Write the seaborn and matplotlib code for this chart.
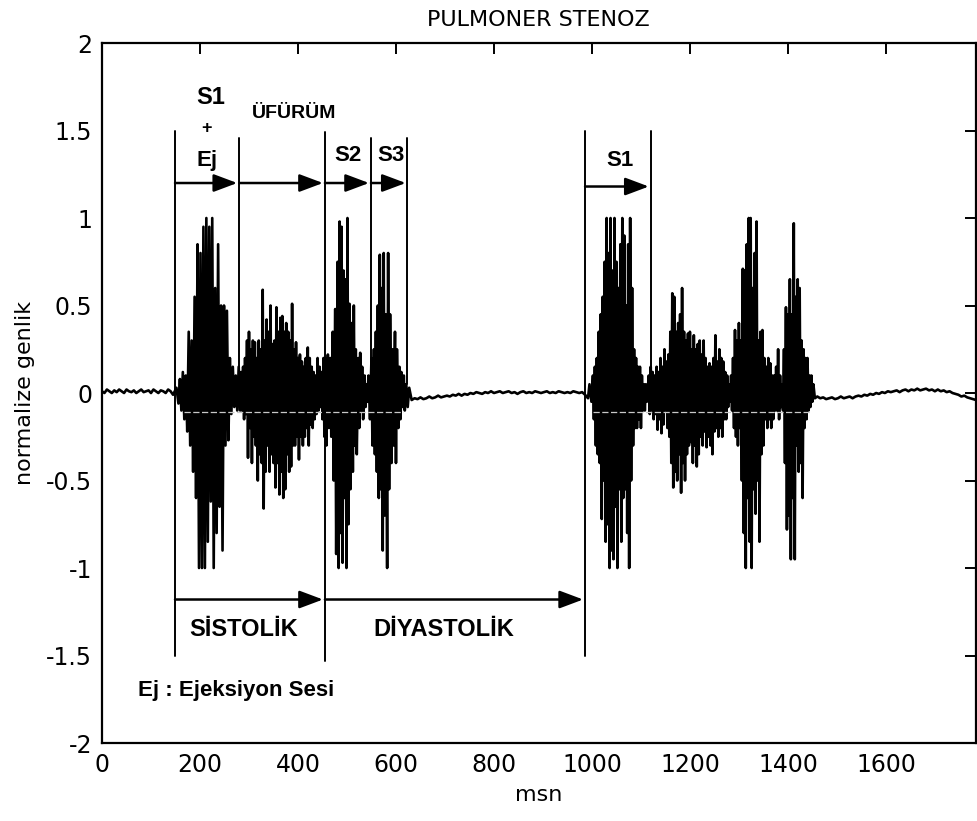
import numpy as np
import pandas as pd
import seaborn as sns
import matplotlib
matplotlib.use("Agg")
import matplotlib.pyplot as plt

# ---------------- data ----------------
base1_t = [0, 5, 10, 15, 20, 25, 30, 35, 40, 45, 50, 55, 60, 65, 70, 75, 80, 85, 90, 95,
           100, 105, 110, 115, 120, 125, 130, 135, 140, 145]
base1_a = [0.010, 0.000, 0.020, 0.010, 0.000, 0.015, 0.005, 0.020, 0.010, 0.000,
           0.020, 0.010, 0.005, 0.015, 0.000, 0.010, 0.020, 0.005, 0.010, 0.015,
           0.000, 0.020, 0.010, 0.000, 0.015, 0.010, 0.000, 0.020, 0.010, -0.010]

s1ej_t = [152, 156, 159, 162, 165, 168, 171, 174, 177, 180, 183, 186, 189, 192, 195, 198,
          201, 204, 207, 210, 213, 216, 219, 222, 225, 228, 231, 234, 237, 240, 243, 246,
          249, 252, 255, 258, 261, 264, 267, 270, 273, 276, 279, 282]
s1ej_a = [0.03, -0.06, 0.08, -0.10, 0.12, -0.15, 0.10, -0.22, 0.35, -0.30, 0.30, -0.45,
          0.55, -0.60, 0.85, -1.00, 0.80, -1.00, 0.95, -1.00, 1.00, -0.85, 0.95, -0.62,
          1.00, -1.00, 0.60, -0.80, 0.85, -0.65, 0.50, -0.90, 0.50, -0.30, 0.47, -0.27,
          0.20, -0.12, 0.15, -0.08, 0.10, -0.10, 0.15, -0.10]

mur1_t = [284, 286, 288, 290, 292, 294, 296, 298, 300, 302, 304, 306, 308, 310, 312, 314,
          316, 318, 320, 322, 324, 326, 328, 330, 332, 334, 336, 338, 340, 342, 344, 346,
          348, 350, 352, 354, 356, 358, 360, 362, 364, 366, 368, 370, 372, 374, 376, 378,
          380, 382, 384, 386, 388, 390, 392, 394, 396, 398, 400, 402, 404, 406, 408, 410,
          412, 414, 416, 418, 420, 422, 424, 426, 428, 430, 432, 434, 436, 438, 440, 442,
          444, 446, 448, 450, 452, 454]
mur1_a = [0.12, -0.10, 0.15, -0.15, 0.20, -0.12, 0.30, -0.37, 0.35, -0.20, 0.25, -0.40,
          0.30, -0.25, 0.29, -0.30, 0.20, -0.50, 0.30, -0.35, 0.25, -0.40, 0.59, -0.66,
          0.30, -0.45, 0.42, -0.30, 0.35, -0.45, 0.50, -0.35, 0.28, -0.40, 0.30, -0.54,
          0.49, -0.40, 0.35, -0.58, 0.43, -0.45, 0.44, -0.60, 0.35, -0.55, 0.40, -0.35,
          0.35, -0.45, 0.30, -0.42, 0.51, -0.30, 0.25, -0.30, 0.29, -0.25, 0.20, -0.38,
          0.22, -0.25, 0.18, -0.30, 0.15, -0.25, 0.20, -0.20, 0.26, -0.30, 0.20, -0.18,
          0.15, -0.20, 0.12, -0.15, 0.10, -0.12, 0.20, -0.10, 0.15, -0.08, 0.12, -0.15,
          0.20, -0.25]

s2_t = [456, 458, 461, 463, 466, 468, 471, 473, 476, 478, 481, 483, 485, 487, 489, 491,
        493, 495, 497, 499, 501, 503, 505, 507, 510, 512, 514, 516, 518, 520, 523, 525,
        527, 529, 531, 533, 536, 538, 540, 542, 544]
s2_a = [0.20, -0.30, 0.22, -0.20, 0.20, -0.25, 0.35, -0.50, 0.48, -0.92, 0.75, -1.00,
        0.98, -0.80, 0.95, -0.97, 0.70, -0.60, 0.65, -1.00, 1.00, -0.75, 0.51, -0.55,
        0.40, -0.45, 0.50, -0.30, 0.25, -0.35, 0.20, -0.20, 0.23, -0.10, 0.15, -0.15,
        0.10, -0.08, 0.05, -0.05, 0.10]

s3_t = [547, 550, 552, 555, 557, 559, 561, 563, 565, 567, 569, 571, 573, 575, 577, 579,
        582, 584, 586, 588, 591, 593, 595, 598, 600, 602, 605, 607, 609, 611, 614, 616,
        618, 621, 624, 627]
s3_a = [-0.15, 0.20, -0.30, 0.25, -0.35, 0.35, -0.45, 0.50, -0.60, 0.79, -0.55, 0.60,
        -0.90, 0.80, -0.70, 0.45, -1.00, 0.80, -0.55, 0.45, -0.40, 0.25, -0.30, 0.35,
        -0.40, 0.25, -0.20, 0.15, -0.15, 0.12, -0.08, 0.10, -0.10, 0.05, -0.08, 0.03]

base2_t = [632, 638, 644, 650, 656, 662, 668, 674, 680, 686, 692, 698, 704, 710, 716, 722,
           728, 734, 740, 746, 752, 758, 764, 770, 776, 782, 788, 794, 800, 806, 812, 818,
           824, 830, 836, 842, 848, 854, 860, 866, 872, 878, 884, 890, 896, 902, 908, 914,
           920, 926, 932, 938, 944, 950, 956, 962, 968, 974, 980, 986]
base2_a = [-0.040, -0.030, -0.035, -0.025, -0.035, -0.030, -0.020, -0.030, -0.025, -0.015,
           -0.025, -0.020, -0.015, -0.020, -0.010, -0.015, -0.005, -0.015, -0.005, -0.010,
           0.000, -0.005, 0.005, 0.000, -0.005, 0.005, 0.000, 0.010, 0.000, 0.005,
           0.010, 0.000, 0.005, 0.010, 0.000, 0.005, -0.005, 0.005, 0.010, 0.000,
           0.005, 0.000, 0.010, 0.005, 0.000, 0.005, 0.010, 0.000, 0.005, 0.000,
           0.010, 0.005, 0.000, 0.005, 0.000, 0.010, 0.005, 0.000, 0.005, -0.010]

s1b_t = [992, 995, 999, 1002, 1004, 1006, 1008, 1010, 1012, 1014, 1016, 1018, 1020, 1022,
         1024, 1026, 1028, 1030, 1032, 1034, 1036, 1038, 1040, 1042, 1044, 1046, 1048,
         1050, 1052, 1054, 1056, 1058, 1060, 1062, 1064, 1066, 1068, 1070, 1072, 1074,
         1076, 1078, 1080, 1082, 1084, 1086, 1088, 1090, 1092, 1094, 1096, 1098, 1100,
         1102, 1104, 1106, 1108, 1110, 1112, 1114]
s1b_a = [-0.03, 0.05, -0.05, 0.10, -0.15, 0.15, -0.30, 0.20, -0.35, 0.35, -0.40, 0.45,
         -0.72, 0.55, -0.50, 0.75, -0.85, 1.00, -0.75, 0.80, -1.00, 1.00, -0.90, 0.70,
         -0.95, 1.00, -0.65, 0.75, -1.00, 0.60, -0.55, 0.85, -0.85, 1.00, -0.60, 0.90,
         -0.55, 0.50, -0.80, 0.85, -1.00, 1.00, -0.50, 0.60, -0.30, 0.25, -0.20, 0.20,
         -0.20, 0.15, -0.15, 0.15, -0.20, 0.10, -0.10, 0.05, -0.10, 0.05, -0.05, 0.02]

mur2_t = [1116, 1118, 1120, 1122, 1124, 1126, 1128, 1130, 1132, 1134, 1136, 1138, 1140,
          1142, 1144, 1146, 1148, 1150, 1152, 1154, 1156, 1158, 1160, 1162, 1164, 1166,
          1168, 1170, 1172, 1174, 1176, 1178, 1180, 1182, 1184, 1186, 1188, 1190, 1192,
          1194, 1196, 1198, 1200, 1202, 1204, 1206, 1208, 1210, 1212, 1214, 1216, 1218,
          1220, 1222, 1224, 1226, 1228, 1230, 1232, 1234, 1236, 1238, 1240, 1242, 1244,
          1246, 1248, 1250, 1252, 1254, 1256, 1258, 1260, 1262, 1264, 1266, 1268, 1270,
          1272, 1274, 1276, 1278, 1280, 1282, 1284, 1286, 1288, 1290]
mur2_a = [0.10, -0.12, 0.15, -0.10, 0.12, -0.15, 0.10, -0.12, 0.15, -0.21, 0.12, -0.15,
          0.20, -0.23, 0.15, -0.18, 0.25, -0.10, 0.18, -0.20, 0.22, -0.25, 0.35, -0.40,
          0.57, -0.54, 0.55, -0.45, 0.35, -0.50, 0.40, -0.35, 0.45, -0.57, 0.60, -0.40,
          0.35, -0.50, 0.30, -0.35, 0.34, -0.30, 0.35, -0.28, 0.25, -0.40, 0.33, -0.30,
          0.25, -0.42, 0.28, -0.35, 0.30, -0.25, 0.22, -0.30, 0.30, -0.22, 0.20, -0.31,
          0.15, -0.25, 0.17, -0.30, 0.15, -0.35, 0.20, -0.22, 0.33, -0.20, 0.18, -0.25,
          0.25, -0.20, 0.20, -0.25, 0.18, -0.15, 0.12, -0.15, 0.10, -0.08, 0.05, -0.05,
          0.10, -0.10, 0.20, -0.20]

s2b_t = [1292, 1294, 1296, 1298, 1300, 1302, 1304, 1306, 1308, 1310, 1312, 1314, 1316,
         1318, 1320, 1322, 1324, 1326, 1328, 1330, 1332, 1334, 1336, 1338, 1340, 1342,
         1344, 1346, 1348, 1350, 1352, 1354, 1356, 1358, 1360, 1362, 1364, 1366, 1368,
         1370, 1372, 1374, 1376, 1378, 1380, 1382, 1384, 1386, 1388]
s2b_a = [0.36, -0.25, 0.30, -0.30, 0.40, -0.20, 0.30, -0.50, 0.71, -0.80, 0.70, -1.00,
         0.85, -0.60, 1.00, -0.85, 1.00, -1.00, 0.60, -0.55, 0.80, -0.69, 0.98, -0.50,
         0.30, -0.85, 0.35, -0.35, 0.36, -0.30, 0.20, -0.15, 0.15, -0.20, 0.20, -0.15,
         0.17, -0.20, 0.10, -0.15, 0.10, -0.10, 0.15, -0.10, 0.25, -0.15, 0.10, -0.08,
         0.05]

s3b_t = [1390, 1392, 1394, 1396, 1398, 1400, 1402, 1404, 1406, 1408, 1410, 1412, 1414,
         1416, 1418, 1420, 1422, 1424, 1426, 1428, 1430, 1432, 1434, 1436, 1438, 1440,
         1442, 1444, 1446, 1448, 1450, 1452, 1455]
s3b_a = [-0.10, 0.25, -0.40, 0.49, -0.78, 0.45, -0.70, 0.65, -0.95, 0.45, -0.60, 0.97,
         -0.95, 0.55, -0.30, 0.65, -0.45, 0.60, -0.40, 0.30, -0.60, 0.25, -0.20, 0.20,
         -0.15, 0.20, -0.10, 0.10, -0.08, 0.10, -0.05, 0.05, -0.03]

base3_t = [1460, 1466, 1472, 1478, 1484, 1490, 1496, 1502, 1508, 1514, 1520, 1526, 1532,
           1538, 1544, 1550, 1556, 1562, 1568, 1574, 1580, 1586, 1592, 1598, 1604, 1610,
           1616, 1622, 1628, 1634, 1640, 1646, 1652, 1658, 1664, 1670, 1676, 1682, 1688,
           1694, 1700, 1706, 1712, 1718, 1724, 1730, 1736, 1742, 1748, 1754, 1760, 1766,
           1772, 1778, 1784]
base3_a = [-0.020, -0.030, -0.025, -0.035, -0.030, -0.025, -0.035, -0.030, -0.020, -0.030,
           -0.025, -0.020, -0.030, -0.020, -0.015, -0.020, -0.010, -0.015, -0.005, -0.010,
           0.000, -0.005, 0.005, 0.000, 0.010, 0.005, 0.010, 0.015, 0.005, 0.015,
           0.020, 0.010, 0.020, 0.015, 0.025, 0.015, 0.020, 0.025, 0.015, 0.020,
           0.010, 0.020, 0.010, 0.015, 0.005, 0.010, 0.000, -0.005, -0.010, -0.020,
           -0.015, -0.025, -0.030, -0.035, -0.040]

x_ticks = [0, 200, 400, 600, 800, 1000, 1200, 1400, 1600]
x_tick_labels = ["0", "200", "400", "600", "800", "1000", "1200", "1400", "1600"]
y_ticks = [-2, -1.5, -1, -0.5, 0, 0.5, 1, 1.5, 2]
y_tick_labels = ["-2", "-1.5", "-1", "-0.5", "0", "0.5", "1", "1.5", "2"]

# event boundaries (ms)
event_lines = [149, 280, 455, 549, 622, 986, 1120]

# ---------------- figure ----------------
segments = [(base1_t, base1_a), (s1ej_t, s1ej_a), (mur1_t, mur1_a), (s2_t, s2_a),
            (s3_t, s3_a), (base2_t, base2_a), (s1b_t, s1b_a), (mur2_t, mur2_a),
            (s2b_t, s2b_a), (s3b_t, s3b_a), (base3_t, base3_a)]
t_all = np.concatenate([np.asarray(t, float) for t, _ in segments])
a_all = np.concatenate([np.asarray(a, float) for _, a in segments])
df = pd.DataFrame({"msn": t_all, "genlik": a_all})

sns.set_theme(style="white")
plt.rcParams["font.family"] = ["DejaVu Sans"]
plt.rcParams["text.color"] = "black"
plt.rcParams["axes.labelcolor"] = "black"

fig = plt.figure(figsize=(9.78, 8.21), dpi=100)
ax = fig.add_axes([0.1043, 0.095, 0.8937, 0.8526])

sns.lineplot(data=df, x="msn", y="genlik", ax=ax, color="black", lw=1.9,
             sort=False, estimator=None, zorder=2)

# faint horizontal trace line seen through the bursts
ax.plot([167, 614], [-0.11, -0.11], color="#c8c8c8", lw=0.9, ls=(0, (5, 2)), zorder=3)
ax.plot([1003, 1445], [-0.11, -0.11], color="#c8c8c8", lw=0.9, ls=(0, (5, 2)), zorder=3)

# vertical event lines
line_tops = [1.50, 1.46, 1.49, 1.46, 1.46, 1.50, 1.50]
line_bots = [-1.50, 0.05, -1.53, 0.05, 0.05, -1.50, 0.00]
for x, y0, y1 in zip(event_lines, line_bots, line_tops):
    ax.plot([x, x], [y0, y1], color="black", lw=1.4, zorder=4)

arrow_kw = dict(arrowstyle="-|>,head_length=1.2,head_width=0.45", color="black",
                lw=1.8, shrinkA=0, shrinkB=0, mutation_scale=12)

def arrow(x0, x1, y):
    ax.annotate("", xy=(x1, y), xytext=(x0, y), arrowprops=arrow_kw, zorder=5)

arrow(149, 276, 1.20)
arrow(280, 451, 1.20)
arrow(455, 545, 1.20)
arrow(549, 620, 1.20)
arrow(986, 1116, 1.18)
arrow(149, 451, -1.18)
arrow(455, 982, -1.18)

bold = dict(fontweight="bold", family=["Liberation Sans", "DejaVu Sans"],
            ha="center", va="center", color="black")
ax.text(222, 1.69, "S1", fontsize=17, **bold)
ax.text(214, 1.51, "+", fontsize=13, **bold)
ax.text(214, 1.33, "Ej", fontsize=16, **bold)
ax.text(392, 1.60, "ÜFÜRÜM", fontsize=14, **bold)
ax.text(503, 1.36, "S2", fontsize=16, **bold)
ax.text(589, 1.36, "S3", fontsize=16, **bold)
ax.text(1057, 1.33, "S1", fontsize=16, **bold)
ax.text(289, -1.35, "SİSTOLİK", fontsize=17, **bold)
ax.text(698, -1.35, "DİYASTOLİK", fontsize=17, **bold)
ax.text(273, -1.70, "Ej : Ejeksiyon Sesi", fontsize=16, **bold)

ax.set_xlim(0, 1784)
ax.set_ylim(-2, 2)
ax.set_xticks(x_ticks)
ax.set_xticklabels(x_tick_labels)
ax.set_yticks(y_ticks)
ax.set_yticklabels(y_tick_labels)
ax.tick_params(direction="in", length=8, width=1.4, top=True, right=True,
               labelsize=17, pad=7, colors="black")
for sp in ax.spines.values():
    sp.set_visible(True)
    sp.set_color("black")
    sp.set_linewidth(1.6)

ax.set_xlabel("msn", fontsize=16, labelpad=6, color="black")
ax.set_ylabel("normalize genlik", fontsize=16, labelpad=8, color="black")
fig.text(0.55, 1 - 20 / 821, "PULMONER STENOZ", ha="center", va="center",
         fontsize=16, color="black")

fig.savefig("out.png", dpi=100, facecolor="white")
